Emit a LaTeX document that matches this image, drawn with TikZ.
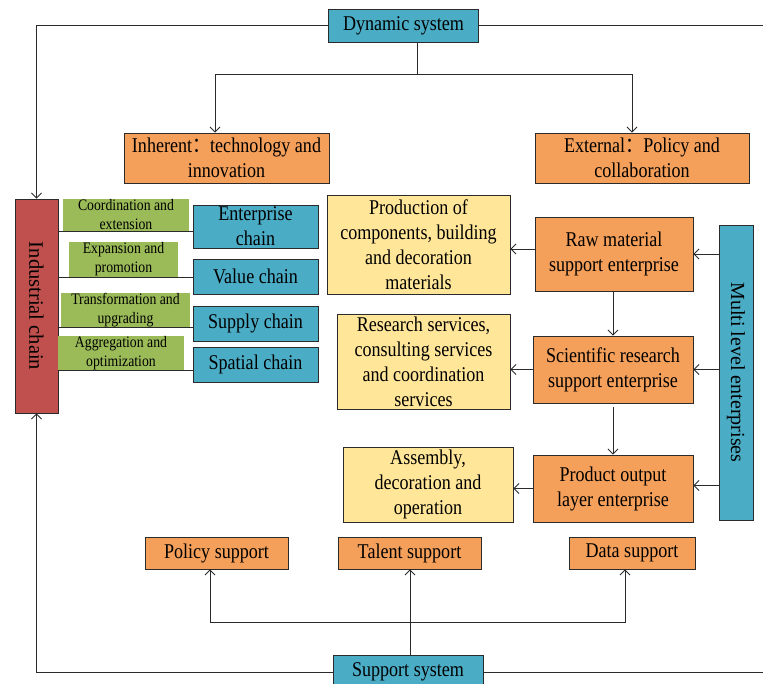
\documentclass[tikz,border=0pt]{standalone}
\usepackage{fontspec}
\usepackage{graphicx}
\setmainfont{Liberation Serif}[FakeStretch=0.86]
\newfontfamily\rotfont{Liberation Serif}
\newfontfamily\cjk{Noto Sans CJK SC}[FakeStretch=0.86]
\usetikzlibrary{arrows.meta}
\definecolor{cOrange}{HTML}{F49F5A}
\definecolor{cBlue}{HTML}{4BACC6}
\definecolor{cRed}{HTML}{C0504D}
\definecolor{cGreen}{HTML}{9BBB59}
\definecolor{cYellow}{HTML}{FFE699}
\definecolor{cLine}{HTML}{2B2B2B}
\begin{document}
\begin{tikzpicture}[x=1pt,y=-1pt,
  box/.style={draw=cLine, line width=0.9pt, inner sep=0pt, align=center,
    font=\fontsize{21}{25}\selectfont},
  obox/.style={box, fill=cOrange},
  bbox/.style={box, fill=cBlue},
  ybox/.style={box, fill=cYellow},
  glabel/.style={fill=cGreen, inner sep=0pt, align=center,
    font=\fontsize{16}{19}\selectfont},
  conn/.style={draw=cLine, line width=0.9pt},
  arr/.style={conn, -{Straight Barb[length=5pt,width=10pt]}}
]
\useasboundingbox (0,0) rectangle (763,684);

% top
\node[bbox, minimum width=150pt, minimum height=33pt] (dyn) at (403.5,25.5) {Dynamic system};
\node[obox, minimum width=205pt, minimum height=50pt] (inh) at (226.5,158) {Inherent{\cjk ：}technology and\\innovation};
\node[obox, minimum width=214pt, minimum height=50pt] (ext) at (642,158) {External{\cjk ：}Policy and\\collaboration};

% industrial chain
\node[box, fill=cRed, minimum width=43pt, minimum height=214pt] (ic) at (36.5,306)
  {\rotatebox{-90}{\rotfont\fontsize{20.5}{24}\selectfont Industrial chain}};

\node[glabel, minimum width=126pt, minimum height=32pt] (g1) at (126,215) {Coordination and\\extension};
\node[glabel, minimum width=109pt, minimum height=35pt] (g2) at (123.5,259.5) {Expansion and\\promotion};
\node[glabel, minimum width=129pt, minimum height=32pt] (g3) at (125.5,310) {Transformation and\\upgrading};
\node[glabel, minimum width=126pt, minimum height=32pt] (g4) at (121,353) {Aggregation and\\optimization};

\node[bbox, minimum width=125pt, minimum height=43pt] (ec) at (255.5,226.5) {Enterprise\\chain};
\node[bbox, minimum width=125pt, minimum height=35pt] (vc) at (255.5,276.5) {Value chain};
\node[bbox, minimum width=125pt, minimum height=35pt] (sc) at (255.5,323.5) {Supply chain};
\node[bbox, minimum width=125pt, minimum height=35pt] (spc) at (255.5,364.5) {Spatial chain};

% middle
\node[ybox, minimum width=183pt, minimum height=99pt] (prod) at (418.5,244.5) {Production of\\components, building\\and decoration\\materials};
\node[obox, minimum width=158pt, minimum height=74pt] (raw) at (614,254) {Raw material\\support enterprise};
\node[ybox, minimum width=173pt, minimum height=95pt] (res) at (423.5,361.5) {Research services,\\consulting services\\and coordination\\services};
\node[obox, minimum width=160pt, minimum height=67pt] (sci) at (613,369.5) {Scientific research\\support enterprise};
\node[ybox, minimum width=170pt, minimum height=75pt] (asm) at (428,484.5) {Assembly,\\decoration and\\operation};
\node[obox, minimum width=160pt, minimum height=67pt] (pout) at (613,488.5) {Product output\\layer enterprise};
\node[bbox, minimum width=34pt, minimum height=295pt] (ml) at (736,372.5)
  {\rotatebox{-90}{\rotfont\fontsize{20}{24}\selectfont Multi level enterprises}};

% bottom
\node[obox, minimum width=143pt, minimum height=32pt] (pol) at (216.5,553) {Policy support};
\node[obox, minimum width=143pt, minimum height=32pt] (tal) at (409.5,553) {Talent support};
\node[obox, minimum width=126pt, minimum height=32pt] (dat) at (632,553) {Data support};
\node[bbox, minimum width=150pt, minimum height=34pt] (sup) at (408,672) {Support system};

% coordinates
\coordinate (j1) at (417,74);
\coordinate (ja) at (215,74);
\coordinate (jb) at (632,74);
\coordinate (rtop) at (763,25.5);
\coordinate (rbot) at (763,672);
\coordinate (k1) at (410,622);
\coordinate (ka) at (210,622);
\coordinate (kb) at (625,622);
\coordinate (rw) at ([yshift=5pt]raw.west);
\coordinate (ss) at ([yshift=-4pt]sci.south);
\coordinate (pe) at ([yshift=3pt]pout.east);

% connectors top
\draw[conn] (dyn.south -| j1) -- (j1);
\draw[arr] (j1) -- (ja) -- (ja |- inh.north);
\draw[arr] (j1) -- (jb) -- (jb |- ext.north);
\draw[arr] (dyn.west) -| (ic.north);
\draw[conn] (dyn.east) -- (rtop);

% chain lines
\draw[conn] (ic.east |- g1.south) -- (ec.west |- g1.south);
\draw[conn] (ic.east |- g2.south) -- (vc.west |- g2.south);
\draw[conn] (ic.east |- g3.south) -- (sc.west |- g3.south);
\draw[conn] (ic.east |- g4.south) -- (spc.west |- g4.south);

% middle connectors
\draw[arr] (rw) -- (prod.east |- rw);
\draw[arr] (sci.west) -- (res.east |- sci.west);
\draw[arr] (pout.west) -- (asm.east |- pout.west);
\draw[arr] (raw.south -| sci.north) -- (sci.north);
\draw[arr] (ss) -- (pout.north);
\draw[arr] (ml.west |- raw.east) -- (raw.east);
\draw[arr] (ml.west |- sci.east) -- (sci.east);
\draw[arr] (ml.west |- pe) -- (pe);

% bottom connectors
\draw[arr] (sup.north -| k1) -- (tal.south -| k1);
\draw[arr] (kb) -- (ka) -- (ka |- pol.south);
\draw[arr] (ka) -- (kb) -- (kb |- dat.south);
\draw[arr] (sup.west) -| (ic.south);
\draw[conn] (sup.east) -- (rbot);
\end{tikzpicture}
\end{document}
